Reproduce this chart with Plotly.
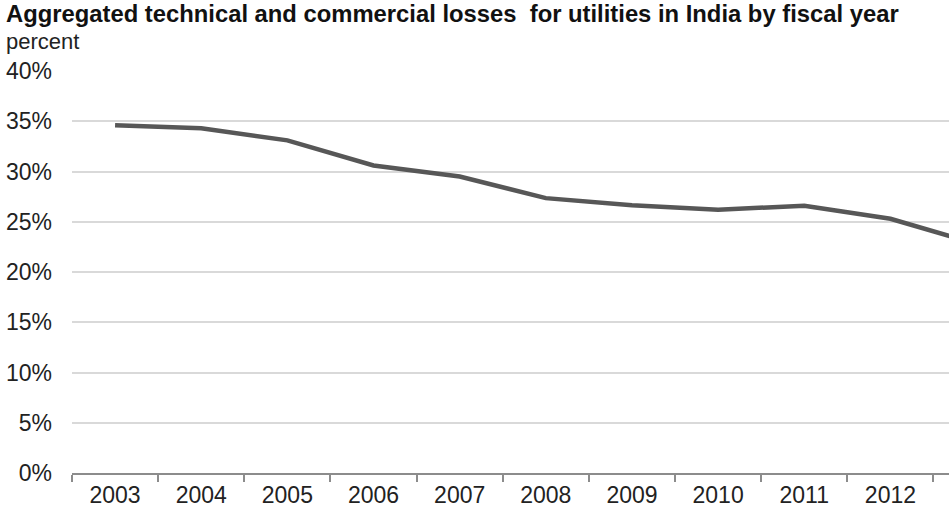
import plotly.graph_objects as go

# Aggregated technical and commercial (AT&C) losses, percent, by fiscal year
years = ["2003", "2004", "2005", "2006", "2007", "2008",
         "2009", "2010", "2011", "2012", "2013"]
losses = [34.6, 34.3, 33.1, 30.6, 29.5, 27.35, 26.65, 26.2, 26.6, 25.3, 22.8]

y_ticks = [0, 5, 10, 15, 20, 25, 30, 35, 40]

FONT = "Liberation Sans, Arial, sans-serif"

W, H = 949, 515
M_L, M_R, M_T, M_B = 72, 0, 71, 42
plot_w = W - M_L - M_R
plot_h = H - M_T - M_B


def paper_y(px):
    """Convert a pixel row (from top of page) to paper y."""
    return (H - M_B - px) / plot_h


def paper_x(px):
    """Convert a pixel column (from left of page) to paper x."""
    return (px - M_L) / plot_w


fig = go.Figure()
fig.add_trace(go.Scatter(
    x=years,
    y=losses,
    mode="lines",
    line=dict(color="#575757", width=4.5),
    hoverinfo="x+y",
))

fig.update_layout(
    width=W,
    height=H,
    margin=dict(l=M_L, r=M_R, t=M_T, b=M_B, pad=0),
    paper_bgcolor="white",
    plot_bgcolor="white",
    showlegend=False,
    font=dict(family=FONT, color="#222222"),
    xaxis=dict(
        type="category",
        range=[-0.5, 9.68],
        tickson="boundaries",
        ticks="outside",
        ticklen=7,
        tickwidth=1.5,
        tickcolor="#8c8c8c",
        showline=True,
        linecolor="#8c8c8c",
        linewidth=2,
        showgrid=False,
        tickfont=dict(size=23, color="#222222"),
        fixedrange=True,
    ),
    yaxis=dict(
        range=[0, 40],
        tickvals=y_ticks,
        ticktext=[f"{v}%" for v in y_ticks],
        showgrid=True,
        gridcolor="#d9d9d9",
        gridwidth=1.5,
        zeroline=False,
        showline=False,
        ticks="",
        ticklabelstandoff=19,
        tickfont=dict(size=23, color="#222222"),
        fixedrange=True,
    ),
    annotations=[
        dict(
            text="<b>Aggregated technical and commercial losses  for utilities in India by fiscal year</b>",
            xref="paper", yref="paper",
            x=paper_x(4),
            y=paper_y(14),
            xanchor="left", yanchor="middle",
            showarrow=False,
            font=dict(size=23.8, color="#111111", family=FONT),
        ),
        dict(
            text="percent",
            xref="paper", yref="paper",
            x=paper_x(4),
            y=paper_y(41),
            xanchor="left", yanchor="middle",
            showarrow=False,
            font=dict(size=22, color="#222222", family=FONT),
        ),
    ],
)

fig.write_html("out.html", config={"displayModeBar": False})
